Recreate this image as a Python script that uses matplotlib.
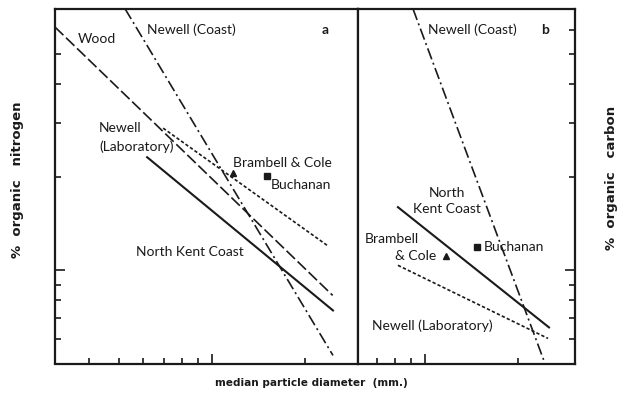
import matplotlib
matplotlib.use("Agg")
import matplotlib.pyplot as plt

# ---------------- data ----------------
# Panel a : % organic nitrogen vs median particle diameter (mm)
a_wood_x = [0.0311, 0.245]
a_wood_y = [0.611, 0.083]
a_newell_lab_x = [0.0695, 0.235]
a_newell_lab_y = [0.288, 0.1205]
a_newell_coast_x = [0.0524, 0.2456]
a_newell_coast_y = [0.699, 0.0531]
a_nkc_x = [0.0617, 0.2456]
a_nkc_y = [0.232, 0.0742]
a_brambell = (0.1169, 0.206)
a_buchanan = (0.1504, 0.2015)

# Panel b : % organic carbon vs median particle diameter (mm)
b_newell_coast_x = [0.0915, 0.2438]
b_newell_coast_y = [6.99, 0.50]
b_nkc_x = [0.0818, 0.2512]
b_nkc_y = [1.60, 0.654]
b_newell_lab_x = [0.0818, 0.2494]
b_newell_lab_y = [1.038, 0.6025]
b_brambell = (0.1169, 1.11)
b_buchanan = (0.1472, 1.187)

# axis ranges / ticks
a_xlim = (0.0311, 0.2958)
b_xlim = (0.0608, 0.3047)
a_ylim = (0.05, 0.699)
b_ylim = (0.50, 6.99)
a_xminor = [0.04, 0.05, 0.06, 0.07, 0.08, 0.09, 0.2]
b_xminor = [0.07, 0.08, 0.09, 0.2]
x_major = [0.1]
a_yminor = [0.06, 0.07, 0.08, 0.09, 0.2, 0.3, 0.4, 0.5]
a_ymajor = [0.1]
b_yminor = [0.6, 0.7, 0.8, 0.9, 2, 3, 4, 5, 6]
b_ymajor = [1]

W, H = 624, 403
fig = plt.figure(figsize=(W / 100, H / 100), dpi=100)
fig.patch.set_facecolor("white")

def fx(px):
    return px / W

def fy(py):
    return 1 - py / H

top, bot = 9, 363.5
ax_a = fig.add_axes([fx(55), fy(bot), (358 - 55) / W, (bot - top) / H])
ax_b = fig.add_axes([fx(358), fy(bot), (575 - 358) / W, (bot - top) / H])

ink = "#1a1a1a"
lw = 1.2
dash_long = (0, (7, 2.2))
dash_dot = (0, (7, 2.2, 1.2, 2.2))
dotted = (0, (2.0, 1.3))

for ax in (ax_a, ax_b):
    ax.set_xscale("log")
    ax.set_yscale("log")
    for s in ax.spines.values():
        s.set_linewidth(1.6)
        s.set_color(ink)
    ax.tick_params(which="both", direction="in", labelleft=False, labelbottom=False,
                   labelright=False, labeltop=False, color=ink, width=1.2)
    ax.tick_params(which="major", length=7)
    ax.tick_params(which="minor", length=4.5)

# panel a
ax_a.plot(a_wood_x, a_wood_y, color=ink, lw=lw, linestyle=dash_long)
ax_a.plot(a_newell_lab_x, a_newell_lab_y, color=ink, lw=lw, linestyle=dotted)
ax_a.plot(a_newell_coast_x, a_newell_coast_y, color=ink, lw=lw, linestyle=dash_dot)
ax_a.plot(a_nkc_x, a_nkc_y, color=ink, lw=1.5, linestyle="-")
ax_a.plot(*a_brambell, marker="^", color=ink, ms=5, linestyle="none")
ax_a.plot(*a_buchanan, marker="s", color=ink, ms=4, linestyle="none")
ax_a.set_xlim(*a_xlim)
ax_a.set_ylim(*a_ylim)
ax_a.set_xticks(x_major)
ax_a.set_xticks(a_xminor, minor=True)
ax_a.set_yticks(a_ymajor)
ax_a.set_yticks(a_yminor, minor=True)
ax_a.tick_params(which="both", left=True, right=False, top=False, bottom=True)

# panel b
ax_b.plot(b_newell_coast_x, b_newell_coast_y, color=ink, lw=lw, linestyle=dash_dot)
ax_b.plot(b_nkc_x, b_nkc_y, color=ink, lw=1.5, linestyle="-")
ax_b.plot(b_newell_lab_x, b_newell_lab_y, color=ink, lw=lw, linestyle=dotted)
ax_b.plot(*b_brambell, marker="^", color=ink, ms=5, linestyle="none")
ax_b.plot(*b_buchanan, marker="s", color=ink, ms=4, linestyle="none")
ax_b.set_xlim(*b_xlim)
ax_b.set_ylim(*b_ylim)
ax_b.set_xticks(x_major)
ax_b.set_xticks(b_xminor, minor=True)
ax_b.set_yticks(b_ymajor)
ax_b.set_yticks(b_yminor, minor=True)
ax_b.tick_params(which="both", left=False, right=True, top=False, bottom=True)

for ax in (ax_a, ax_b):
    ax.xaxis.set_minor_formatter(matplotlib.ticker.NullFormatter())
    ax.yaxis.set_minor_formatter(matplotlib.ticker.NullFormatter())
    ax.xaxis.set_major_formatter(matplotlib.ticker.NullFormatter())
    ax.yaxis.set_major_formatter(matplotlib.ticker.NullFormatter())

lab = dict(family="Lato", fontsize=10, color=ink, va="center")

def t(px, py, s, **kw):
    d = dict(lab)
    d.update(kw)
    fig.text(fx(px), fy(py), s, **d)

# panel a labels
t(147, 30, "Newell (Coast)")
t(322, 30, "a", fontweight="bold")
t(78, 39, "Wood")
t(99, 128, "Newell")
t(99, 147, "(Laboratory)")
t(233, 163, "Brambell & Cole")
t(271, 185, "Buchanan")
t(136, 252, "North Kent Coast")

# panel b labels
t(428, 30, "Newell (Coast)")
t(541, 30, "b", fontweight="bold")
t(447, 193, "North", ha="center")
t(447, 209, "Kent Coast", ha="center")
t(365, 239, "Brambell")
t(395, 256, "& Cole")
t(484, 247, "Buchanan")
t(372, 326, "Newell (Laboratory)")

# axis titles
y_font = dict(family="DejaVu Sans", fontsize=9.5, color=ink, fontweight="bold")
x_font = dict(family="DejaVu Sans", fontsize=7.6, color=ink, fontweight="bold")
fig.text(fx(18), fy(180), "%  organic   nitrogen", rotation=90, ha="center", va="center", **y_font)
fig.text(fx(611), fy(178), "%  organic   carbon", rotation=90, ha="center", va="center", **y_font)
fig.text(fx(311), fy(383), "median particle diameter  (mm.)", ha="center", va="center", **x_font)

fig.savefig("out.png", dpi=100, facecolor="white")
